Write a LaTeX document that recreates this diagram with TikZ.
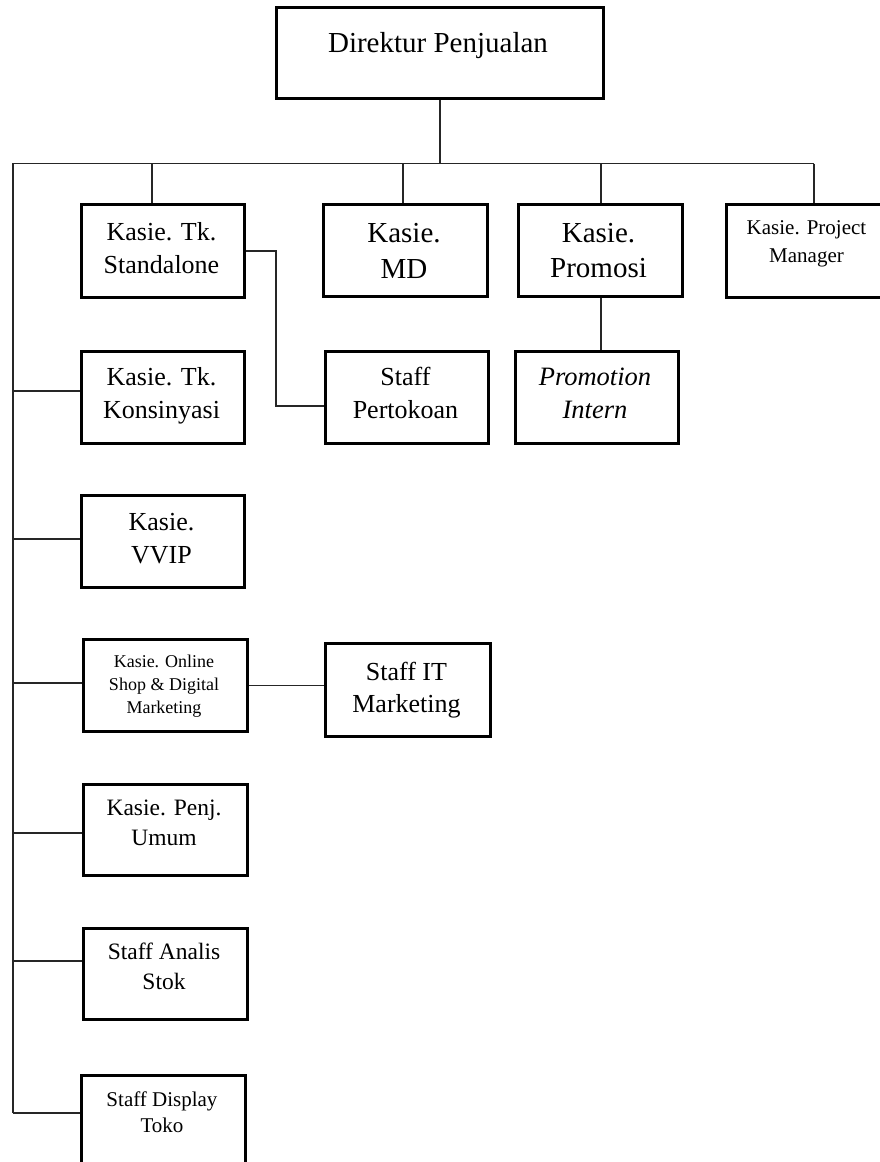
\documentclass[tikz,border=0pt]{standalone}
\usepackage{fontspec}
\setmainfont{Liberation Serif}
\newcommand\txtlines[3]{\fontsize{#1}{#2}\selectfont\begin{tabular}[t]{@{}c@{}}#3\end{tabular}}
\begin{document}
\begin{tikzpicture}[x=1pt,y=-1pt,
  orgbox/.style n args={2}{draw=black,line width=2.9pt,anchor=north west,inner sep=0pt,
    minimum width=#1pt,minimum height=#2pt},
  txt/.style={anchor=base,inner sep=0pt},
  conn/.style={draw=black!85,line width=1.3pt}]
\useasboundingbox (0,0) rectangle (880,1162);

% boxes
\node[orgbox={327}{91}] (dir) at (275,6) {};
\node[orgbox={163}{93}] (std) at (80,203) {};
\node[orgbox={164}{92}] (md)  at (322,203) {};
\node[orgbox={164}{92}] (pro) at (517,203) {};
\node[orgbox={163}{93}] (pm)  at (725,203) {};
\node[orgbox={163}{92}] (kon) at (80,350) {};
\node[orgbox={163}{92}] (ptk) at (324,350) {};
\node[orgbox={163}{92}] (int) at (514,350) {};
\node[orgbox={163}{92}] (vip) at (80,494) {};
\node[orgbox={164}{92}] (onl) at (82,638) {};
\node[orgbox={165}{93}] (it)  at (324,642) {};
\node[orgbox={164}{91}] (umm) at (82,783) {};
\node[orgbox={164}{91}] (ana) at (82,927) {};
\node[orgbox={164}{92}] (dsp) at (80,1074) {};

% texts
\node[txt] (dir-t) at (438,52) {\txtlines{29}{34}{Direktur Penjualan}};
\node[txt] (std-t) at (161.5,240) {\txtlines{26}{33}{Kasie. Tk.\\Standalone}};
\node[txt] (md-t)  at (404,242) {\txtlines{29}{36}{Kasie.\\MD}};
\node[txt] (pro-t) at (598.5,242) {\txtlines{29}{35}{Kasie.\\Promosi}};
\node[txt] (pm-t)  at (806.5,234) {\txtlines{21}{28}{Kasie. Project\\Manager}};
\node[txt] (kon-t) at (161.5,385) {\txtlines{26}{33}{Kasie. Tk.\\Konsinyasi}};
\node[txt] (ptk-t) at (405.5,385) {\txtlines{26}{33}{Staff\\Pertokoan}};
\node[txt] (int-t) at (595,385) {\txtlines{26.5}{33}{\itshape Promotion\\\itshape Intern}};
\node[txt] (vip-t) at (161.5,530) {\txtlines{26}{33}{Kasie.\\VVIP}};
\node[txt] (onl-t) at (164,667) {\txtlines{18}{23}{Kasie. Online\\Shop \& Digital\\Marketing}};
\node[txt] (it-t)  at (406.5,680) {\txtlines{26}{32}{Staff IT\\Marketing}};
\node[txt] (umm-t) at (164,815) {\txtlines{23.5}{30}{Kasie. Penj.\\Umum}};
\node[txt] (ana-t) at (164,959) {\txtlines{23.5}{30}{Staff Analis\\Stok}};
\node[txt] (dsp-t) at (162,1106) {\txtlines{21}{26}{Staff Display\\Toko}};

% connectors
\coordinate (busL) at (13,163.5);
\coordinate (s1) at (152,163.5);
\coordinate (s2) at (403,163.5);
\coordinate (s3) at (601,163.5);
\coordinate (s4) at (814,163.5);
\coordinate (l1) at (13,391);
\coordinate (l2) at (13,539);
\coordinate (l3) at (13,683);
\coordinate (l4) at (13,833);
\coordinate (l5) at (13,961);
\coordinate (l6) at (13,1113);
\coordinate (elb) at (276,406);

\draw[conn] (dir.south) -- (dir.south |- busL);
\draw[conn] (l6) -- (busL) -- (s4);
\draw[conn] (s1) -- (s1 |- std.north);
\draw[conn] (s2) -- (s2 |- md.north);
\draw[conn] (s3) -- (s3 |- pro.north);
\draw[conn] (s4) -- (s4 |- pm.north);
\draw[conn] (l1) -- (l1 -| kon.west);
\draw[conn] (l2) -- (l2 -| vip.west);
\draw[conn] (l3) -- (l3 -| onl.west);
\draw[conn] (l4) -- (l4 -| umm.west);
\draw[conn] (l5) -- (l5 -| ana.west);
\draw[conn] (l6) -- (l6 -| dsp.west);
\draw[conn] (std.east) -| (elb) -- (elb -| ptk.west);
\draw[conn] (s3 |- pro.south) -- (s3 |- int.north);
\draw[conn] (onl.east) -- (onl.east -| it.west);
\end{tikzpicture}
\end{document}
